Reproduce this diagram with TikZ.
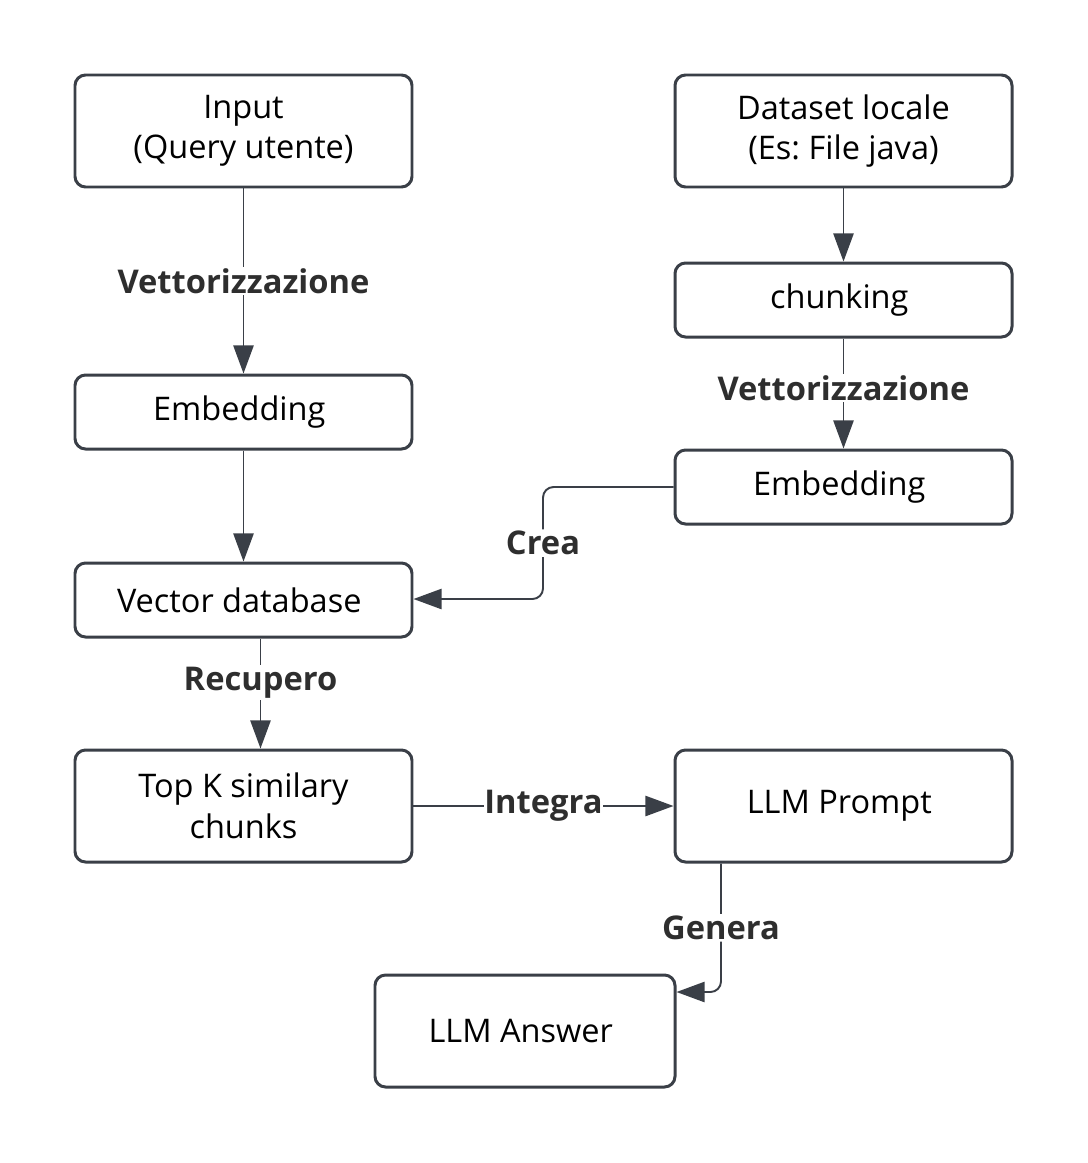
\documentclass[tikz,border=0pt]{standalone}
\usepackage{fontspec}
\setmainfont{Open Sans}
\frenchspacing
\usetikzlibrary{arrows.meta}
\definecolor{bordo}{HTML}{3A3F47}
\definecolor{testo}{HTML}{2E2E2E}
\tikzset{
  blocco/.style={draw=bordo,line width=1.7pt,rounded corners=6pt,fill=white,minimum height=2.1cm,text=black,align=center,font=\fontsize{18.5}{23}\selectfont},
  etichetta/.style={fill=white,inner sep=1pt,text=testo,font=\fontsize{18.6}{20}\selectfont\bfseries},
  freccia/.style={draw=bordo,line width=1.1pt,-{Triangle[length=16pt,width=11.5pt]}}
}
\begin{document}
\begin{tikzpicture}
            \useasboundingbox (0,0) rectangle (21.76,-23.26);
            \node[blocco,minimum width=6.74cm,minimum height=2.24cm] (A) at (4.87, -2.62) { Input\\(Query utente) };
            \node[blocco,minimum width=6.74cm,minimum height=1.48cm] (B) at (4.87, -8.24) { Embedding };
            \node[blocco,minimum width=6.74cm,minimum height=1.48cm] (C) at (4.87, -12.00) { Vector database };
            \node[blocco,minimum width=6.74cm,minimum height=2.24cm] (D) at (4.87, -16.12) { Top K similary\\chunks };

            \node[blocco,minimum width=6.74cm,minimum height=2.24cm] (E) at (16.87, -2.62) { Dataset locale\\(Es: File java) };
            \node[blocco,minimum width=6.74cm,minimum height=1.48cm] (F) at (16.87, -6.00) { chunking };
            \node[blocco,minimum width=6.74cm,minimum height=1.48cm] (G) at (16.87, -9.74) { Embedding };
            \node[blocco,minimum width=6.74cm,minimum height=2.24cm] (H) at (16.87, -16.12) { LLM Prompt };
            \node[blocco,minimum width=6.00cm,minimum height=2.24cm] (I) at (10.50, -20.62) { LLM Answer };

            \draw[freccia] (A) to node[etichetta] {Vettorizzazione} (B);
            \draw[freccia] (B) to (C);
            \draw[freccia] ([xshift=0.34cm]C.south) to node[etichetta,pos=0.4] {Recupero} ([xshift=0.34cm]D.north);
            \draw[freccia] (D) to node[etichetta,inner sep=0pt] {Integra} (H);

            \draw[freccia] (E) to (F);
            \draw[freccia] (F) to node[etichetta,pos=0.45] {Vettorizzazione} (G);
            \draw[freccia,rounded corners=6pt] (G.west) -| (10.86,-11.98) node[etichetta,pos=0.75] {Crea} -- (C.east |- 0,-11.98);
            \draw[freccia,rounded corners=6pt] ([xshift=-2.45cm]H.south) |- node[etichetta,pos=0.25] {Genera} (I.east |- 0,-19.84);
        \end{tikzpicture}
\end{document}
